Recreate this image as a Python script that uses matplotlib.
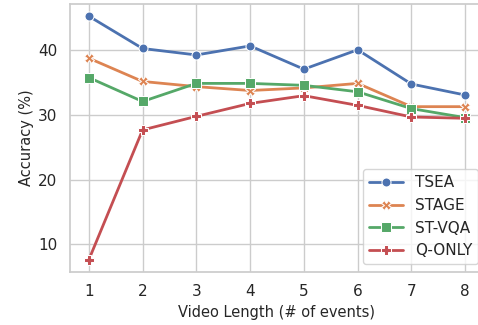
import matplotlib
matplotlib.use("Agg")
import matplotlib.pyplot as plt
import seaborn as sns
import pandas as pd

lengths = [1, 2, 3, 4, 5, 6, 7, 8]
tsea = [45.3, 40.3, 39.3, 40.7, 37.1, 40.1, 34.8, 33.1]
stage = [38.8, 35.2, 34.4, 33.8, 34.2, 34.9, 31.3, 31.3]
st_vqa = [35.8, 32.1, 34.9, 34.9, 34.6, 33.6, 31.0, 29.6]
q_only = [7.6, 27.7, 29.8, 31.8, 33.0, 31.5, 29.7, 29.5]

names = ["TSEA", "STAGE", "ST-VQA", "Q-ONLY"]
series = [tsea, stage, st_vqa, q_only]

rows = []
for name, vals in zip(names, series):
    for x, v in zip(lengths, vals):
        rows.append({"len": x, "acc": v, "model": name})
df = pd.DataFrame(rows)

sns.set_theme(style="whitegrid")
plt.rcParams['font.family'] = ['DejaVu Sans']

fig = plt.figure(figsize=(4.78, 3.25), dpi=100)
ax = fig.add_axes([70 / 478, 53 / 325, 414 / 478, 268 / 325])

sns.lineplot(data=df, x="len", y="acc", hue="model", style="model",
             markers=["o", "X", "s", "P"], dashes=False, linewidth=2.0,
             markersize=6.5, ax=ax)

ax.set_xticks(lengths)
ax.tick_params(labelsize=11, pad=3)
ax.set_xlabel("Video Length (# of events)", fontsize=10.5, labelpad=4)
ax.set_ylabel("Accuracy (%)", fontsize=10.5, labelpad=3)
ax.set_xlim(0.65, 8.35)
ax.legend(loc="lower right", fontsize=11, title=None, borderaxespad=0.5,
          handlelength=2.2, bbox_to_anchor=(1.005, 0.0))

fig.savefig("out.png", dpi=100)
